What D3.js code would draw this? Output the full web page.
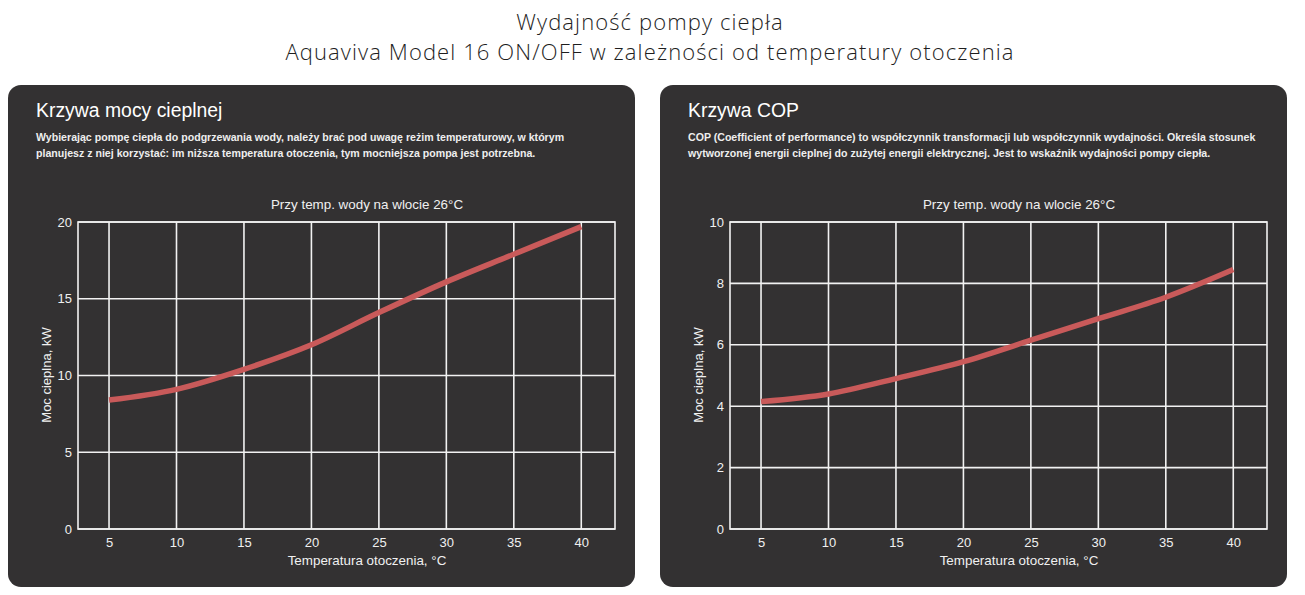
<!DOCTYPE html>
<html>
<head>
<meta charset="utf-8">
<script src="https://cdn.jsdelivr.net/npm/d3@7"></script>
<style>
  body { margin: 0; background: #fff; }
  svg { display: block; }
</style>
</head>
<body>
<div id="chart"></div>
<script>
// values
var temps = [5, 10, 15, 20, 25, 30, 35, 40]
var powerKw = [8.4, 9.1, 10.4, 12.0, 14.1, 16.1, 17.9, 19.7]
var copValues = [4.15, 4.4, 4.9, 5.45, 6.15, 6.85, 7.55, 8.45]
var powerTicks = [0, 5, 10, 15, 20]
var copTicks = [0, 2, 4, 6, 8, 10]

var titleLines = ['Wydajność pompy ciepła', 'Aquaviva Model 16 ON/OFF w zależności od temperatury otoczenia']

var panels = [
  {
    x: 8, title: 'Krzywa mocy cieplnej',
    desc: ['Wybierając pompę ciepła do podgrzewania wody, należy brać pod uwagę reżim temperaturowy, w którym',
           'planujesz z niej korzystać: im niższa temperatura otoczenia, tym mocniejsza pompa jest potrzebna.'],
    values: powerKw, ticks: powerTicks, yMax: 20
  },
  {
    x: 660, title: 'Krzywa COP',
    desc: ['COP (Coefficient of performance) to współczynnik transformacji lub współczynnik wydajności. Określa stosunek',
           'wytworzonej energii cieplnej do zużytej energii elektrycznej. Jest to wskaźnik wydajności pompy ciepła.'],
    values: copValues, ticks: copTicks, yMax: 10
  }
]

var width = 1305, height = 595
var font = '"Liberation Sans", Arial, sans-serif'

var svg = d3.select('#chart').append('svg')
  .attr('width', width)
  .attr('height', height)

svg.selectAll('text.title')
  .data(titleLines)
  .enter().append('text')
  .attr('class', 'title')
  .attr('x', 650)
  .attr('y', function(d, i) { return 30 + i * 30 })
  .attr('text-anchor', 'middle')
  .attr('font-family', '"Open Sans", sans-serif')
  .attr('font-weight', 300)
  .attr('font-size', 22)
  .attr('letter-spacing', 1.1)
  .attr('fill', '#1e1e1e')
  .text(function(d) { return d })

panels.forEach(function(p) {
  var g = svg.append('g').attr('transform', 'translate(' + p.x + ',0)')

  g.append('rect')
    .attr('x', 0).attr('y', 85)
    .attr('width', 627).attr('height', 502)
    .attr('rx', 13)
    .attr('fill', '#333132')

  g.append('text')
    .attr('x', 28).attr('y', 117)
    .attr('font-family', font)
    .attr('font-size', 19.4)
    .attr('fill', '#fff')
    .text(p.title)

  g.selectAll('text.desc')
    .data(p.desc)
    .enter().append('text')
    .attr('class', 'desc')
    .attr('x', 28)
    .attr('y', function(d, i) { return 141 + i * 16 })
    .attr('font-family', font)
    .attr('font-size', 10.6)
    .attr('font-weight', 'bold')
    .attr('fill', '#eeeeee')
    .text(function(d) { return d })

  // plot area
  var left = 70, right = 607, top = 222, bottom = 529
  var x = d3.scaleLinear().domain([2.7, 42.5]).range([left, right])
  var y = d3.scaleLinear().domain([0, p.yMax]).range([bottom, top])

  var grid = g.append('g').attr('stroke', '#f2f2f2').attr('stroke-width', 1.6)
  grid.selectAll('line.v')
    .data(temps)
    .enter().append('line')
    .attr('x1', function(d) { return x(d) }).attr('x2', function(d) { return x(d) })
    .attr('y1', top).attr('y2', bottom)
  grid.selectAll('line.h')
    .data(p.ticks)
    .enter().append('line')
    .attr('x1', left).attr('x2', right)
    .attr('y1', function(d) { return y(d) }).attr('y2', function(d) { return y(d) })
  grid.append('rect')
    .attr('x', left).attr('y', top)
    .attr('width', right - left).attr('height', bottom - top)
    .attr('fill', 'none')

  var yAxis = g.append('g')
    .attr('transform', 'translate(' + (left - 4) + ',0)')
    .call(d3.axisLeft(y).tickValues(p.ticks).tickSize(0).tickPadding(2))
  var xAxis = g.append('g')
    .attr('transform', 'translate(0,' + (bottom + 4) + ')')
    .call(d3.axisBottom(x).tickValues(temps).tickSize(0).tickPadding(5))
  ;[xAxis, yAxis].forEach(function(a) {
    a.select('.domain').remove()
    a.selectAll('text')
      .attr('font-family', font)
      .attr('font-size', 13)
      .attr('fill', '#f0f0f0')
  })

  var line = d3.line()
    .x(function(d, i) { return x(temps[i]) })
    .y(function(d) { return y(d) })
    .curve(d3.curveMonotoneX)

  g.append('path')
    .datum(p.values)
    .attr('d', line)
    .attr('fill', 'none')
    .attr('stroke', '#c95a5a')
    .attr('stroke-width', 5.5)
    .attr('stroke-linecap', 'butt')

  g.append('text')
    .attr('x', 359).attr('y', 209)
    .attr('text-anchor', 'middle')
    .attr('font-family', font)
    .attr('font-size', 13.4)
    .attr('fill', '#f0f0f0')
    .text('Przy temp. wody na wlocie 26°C')

  g.append('text')
    .attr('x', 359).attr('y', 565)
    .attr('text-anchor', 'middle')
    .attr('font-family', font)
    .attr('font-size', 13.4)
    .attr('fill', '#f0f0f0')
    .text('Temperatura otoczenia, °C')

  g.append('text')
    .attr('transform', 'translate(43,375) rotate(-90)')
    .attr('text-anchor', 'middle')
    .attr('font-family', font)
    .attr('font-size', 13)
    .attr('fill', '#f0f0f0')
    .text('Moc cieplna, kW')
})
</script>
</body>
</html>
